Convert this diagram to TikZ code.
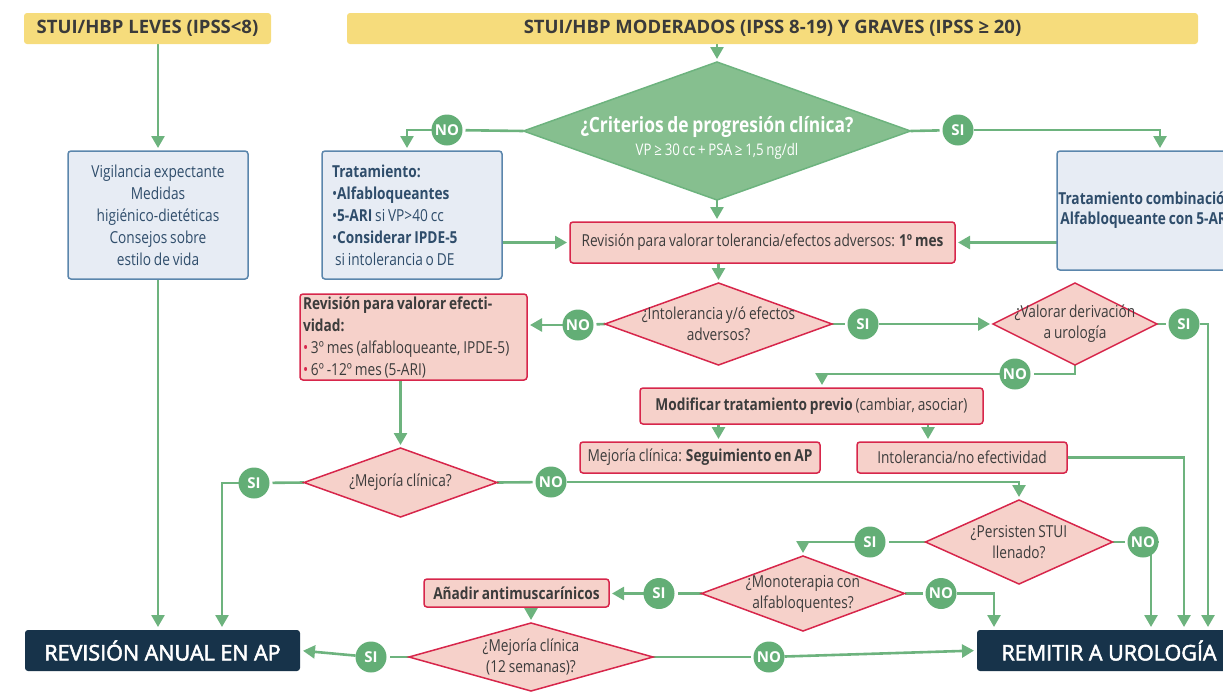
\documentclass[tikz,border=0pt]{standalone}
\usepackage{fontspec}
\setmainfont{Open Sans}
\newfontfamily\condfont{Open Sans}[FakeStretch=0.83,WordSpace=0.8]
\newfontfamily\semifont{Open Sans}[FakeBold=2.5]
\usetikzlibrary{shapes.geometric,arrows.meta}
\pgfdeclarelayer{background}
\pgfsetlayers{background,main}
\definecolor{hdryellow}{HTML}{F6DC7C}
\definecolor{hdrtext}{HTML}{3A3A3A}
\definecolor{flowgreen}{HTML}{6DB37E}
\definecolor{circgreen}{HTML}{63AE76}
\definecolor{qgreen}{HTML}{86BF8F}
\definecolor{bluefill}{HTML}{E7ECF4}
\definecolor{blueline}{HTML}{5B86AC}
\definecolor{bluetext}{HTML}{2F4D6B}
\definecolor{pinkfill}{HTML}{F6D1CA}
\definecolor{pinkline}{HTML}{D7264B}
\definecolor{bodytext}{HTML}{3C3C3C}
\definecolor{navy}{HTML}{17334A}
\begin{document}
\begin{tikzpicture}[x=1pt,y=-1pt,inner sep=0pt,outer sep=0pt,
>={Triangle[length=12pt,width=13pt]},
flow/.style={draw=flowgreen,line width=2.6pt,shorten >=3pt},
header/.style={rectangle,fill=hdryellow,rounded corners=3pt,text=hdrtext,font=\fontsize{18.5}{20}\selectfont\bfseries},
bluebox/.style={rectangle,draw=blueline,fill=bluefill,line width=1.5pt,rounded corners=3pt,text=bluetext,font=\condfont\fontsize{16.5}{22}\selectfont},
pinkbox/.style={rectangle,draw=pinkline,fill=pinkfill,line width=1.5pt,rounded corners=3pt,text=bodytext,font=\condfont\fontsize{16.5}{22}\selectfont},
leftbox/.style={align=left,execute at begin node={\spaceskip=0pt\xspaceskip=0pt}},
decision/.style={diamond,draw=pinkline,fill=pinkfill,line width=1.5pt},
qtext/.style={align=center,text=bodytext,font=\condfont\fontsize{16.5}{21}\selectfont},
yesno/.style={circle,fill=circgreen,minimum size=31pt,text=white,font=\fontsize{15}{15}\selectfont\bfseries},
endbox/.style={rectangle,fill=navy,rounded corners=3pt,text=white,font=\semifont\fontsize{21.5}{22}\selectfont}]

\useasboundingbox (0,0) rectangle (1223,691);
\clip (0,0) rectangle (1223,691);

\draw (147.5,28.5) node[header,minimum width=247pt,minimum height=31pt] (leves) {STUI/HBP LEVES (IPSS<8)};
\draw (772.5,28.5) node[header,minimum width=851pt,minimum height=31pt] (graves) {STUI/HBP MODERADOS (IPSS 8-19) Y GRAVES (IPSS ≥ 20)};

\draw (158,215) node[bluebox,minimum width=180pt,minimum height=128pt,align=center] (vigil)
  {Vigilancia expectante\\Medidas\\higiénico-dietéticas\\Consejos sobre\\estilo de vida};
\draw (412,215) node[bluebox,leftbox,minimum width=180pt,minimum height=128pt,text width=160pt] (trat)
  {\textbf{Tratamiento:}\\•\textbf{Alfabloqueantes}\\•\textbf{5-ARI} si VP>40 cc\\•\textbf{Considerar IPDE-5}\\\hspace*{3pt}si intolerancia o DE};
\draw (1146,210.5) node[bluebox,minimum width=178pt,minimum height=119pt,align=center,font=\condfont\fontsize{16.5}{20}\selectfont\bfseries] (comb)
  {Tratamiento combinación\\Alfabloqueante con 5-ARI};

\draw (717,131) node[diamond,fill=qgreen,draw=flowgreen,line width=1.5pt,minimum width=387pt,minimum height=138pt] (crit) {};
\draw (717,138) node[align=center,text=white,font=\condfont] (crit-t)
  {{\fontsize{21}{24}\selectfont\bfseries ¿Criterios de progresión clínica?}\\[5pt]{\fontsize{16}{17}\selectfont VP ≥ 30 cc + PSA ≥ 1,5 ng/dl}};

\draw (762.5,242.5) node[pinkbox,minimum width=385pt,minimum height=41pt] (rev1)
  {Revisión para valorar tolerancia/efectos adversos: \textbf{1º mes}};

\draw (718.5,324) node[decision,minimum width=227pt,minimum height=82pt] (intol) {};
\draw (718.5,324) node[qtext] (intol-t) {¿Intolerancia y/ó efectos\\adversos?};
\draw (1075,324) node[decision,minimum width=164pt,minimum height=82pt] (valor) {};
\draw (1075,324) node[qtext] (valor-t) {¿Valorar derivación\\a urología};

\draw (413.5,337) node[pinkbox,leftbox,minimum width=227pt,minimum height=86pt,text width=221pt] (efect)
  {\textbf{Revisión para valorar efecti-}\\\textbf{vidad:}\\{\color{pinkline}•} 3º mes (alfabloqueante, IPDE-5)\\{\color{pinkline}•} 6º -12º mes (5-ARI)};

\draw (811.5,406) node[pinkbox,minimum width=343pt,minimum height=36pt] (modif)
  {\textbf{Modificar tratamiento previo} (cambiar, asociar)};
\draw (700,457.5) node[pinkbox,minimum width=240pt,minimum height=31pt] (mejseg)
  {Mejoría clínica: \textbf{Seguimiento en AP}};
\draw (962,457.5) node[pinkbox,minimum width=210pt,minimum height=31pt] (intolno)
  {Intolerancia/no efectividad};

\draw (400.5,482.5) node[decision,minimum width=193pt,minimum height=69pt] (mej1) {};
\draw (400.5,482.5) node[qtext] (mej1-t) {¿Mejoría clínica?};
\draw (1019,542) node[decision,minimum width=187pt,minimum height=84pt] (pers) {};
\draw (1019,542) node[qtext] (pers-t) {¿Persisten STUI\\llenado?};
\draw (803,593.5) node[decision,minimum width=203pt,minimum height=75pt] (mono) {};
\draw (803,593.5) node[qtext] (mono-t) {¿Monoterapia con\\alfabloquentes?};
\draw (516.5,593) node[pinkbox,minimum width=185pt,minimum height=28pt] (anad) {\textbf{Añadir antimuscarínicos}};
\draw (531,657) node[decision,minimum width=244pt,minimum height=68pt] (mej12) {};
\draw (531,657) node[qtext] (mej12-t) {¿Mejoría clínica\\(12 semanas)?};

\draw (162.5,650.5) node[endbox,minimum width=275pt,minimum height=41pt] (anual) {REVISIÓN ANUAL EN AP};
\draw (1109,650.5) node[endbox,minimum width=264pt,minimum height=41pt] (remit) {REMITIR A UROLOGÍA};

\draw (447,130) node[yesno] (no1) {NO};
\draw (958,130) node[yesno] (si1) {SI};
\draw (578,325) node[yesno] (no2) {NO};
\draw (863,324) node[yesno] (si2) {SI};
\draw (1184,324) node[yesno] (si3) {SI};
\draw (1015,374) node[yesno] (no3) {NO};
\draw (254,483) node[yesno] (si4) {SI};
\draw (551,482) node[yesno] (no4) {NO};
\draw (870,542) node[yesno] (si5) {SI};
\draw (1143,542) node[yesno] (no5) {NO};
\draw (659,593.5) node[yesno] (si6) {SI};
\draw (941,593.5) node[yesno] (no6) {NO};
\draw (371,657) node[yesno] (si7) {SI};
\draw (769,657) node[yesno] (no7) {NO};

\begin{pgfonlayer}{background}
\draw[flow,->] (vigil.90 |- leves.270) -- (vigil.90);
\draw[flow,->] (vigil.270) -- (vigil.270 |- anual.90);
\draw[flow,->] (crit.90 |- graves.270) -- (crit.90);
\draw[flow] (crit.180) -- (no1);
\draw[flow,->] (no1) -| ([xshift=-5pt]trat.90);
\draw[flow] (crit.0) -- (si1);
\draw[flow,->] (si1) -| ([xshift=14pt]comb.90);
\draw[flow,->] (crit.270) -- (crit.270 |- rev1.90);
\draw[flow,->] (trat.0 |- rev1.180) -- (rev1.180);
\draw[flow,->] (comb.180 |- rev1.0) -- (rev1.0);
\draw[flow,->] (intol.90 |- rev1.270) -- (intol.90);
\draw[flow] (intol.180) -- (no2);
\draw[flow,->] (no2) -- (efect.0 |- no2);
\draw[flow] (intol.0) -- (si2);
\draw[flow,->] (si2) -- (valor.180);
\draw[flow] (valor.0) -- (si3);
\draw[flow,->] (si3) -| ([xshift=99pt]remit.90);
\draw[flow] (valor.270) |- (no3);
\draw[flow,->] (no3) -| ([xshift=10.5pt]modif.90);
\draw[flow,->] (intol.90 |- modif.270) -- (intol.90 |- mejseg.90);
\draw[flow,->] ([xshift=-34pt]intolno.90 |- modif.270) -- ([xshift=-34pt]intolno.90);
\draw[flow,->] (intolno.0) -| ([xshift=75pt]remit.90);
\draw[flow,->] (mej1.90 |- efect.270) -- (mej1.90);
\draw[flow] (mej1.180) -- (si4);
\draw[flow,->] (si4) -| ([xshift=59.5pt]anual.90);
\draw[flow] (mej1.0) -- (no4);
\draw[flow,->] (no4) -| (pers.90);
\draw[flow] (pers.0) -- (no5);
\draw[flow,->] (no5) -| ([xshift=42pt]remit.90);
\draw[flow] (pers.180) -- (si5);
\draw[flow,->] (si5) -| (mono.90);
\draw[flow] (mono.0) -- (no6);
\draw[flow,->] (no6) -| ([xshift=-115pt]remit.90);
\draw[flow] (mono.180) -- (si6);
\draw[flow,->] (si6) -- (anad.0 |- si6);
\draw[flow,->] (mej12.90 |- anad.270) -- (mej12.90);
\draw[flow] (mej12.180) -- (si7);
\draw[flow,->] (si7) -- (anual.0);
\draw[flow] (mej12.0) -- (no7);
\draw[flow,->] (no7) -- (remit.180);
\end{pgfonlayer}

\end{tikzpicture}
\end{document}
